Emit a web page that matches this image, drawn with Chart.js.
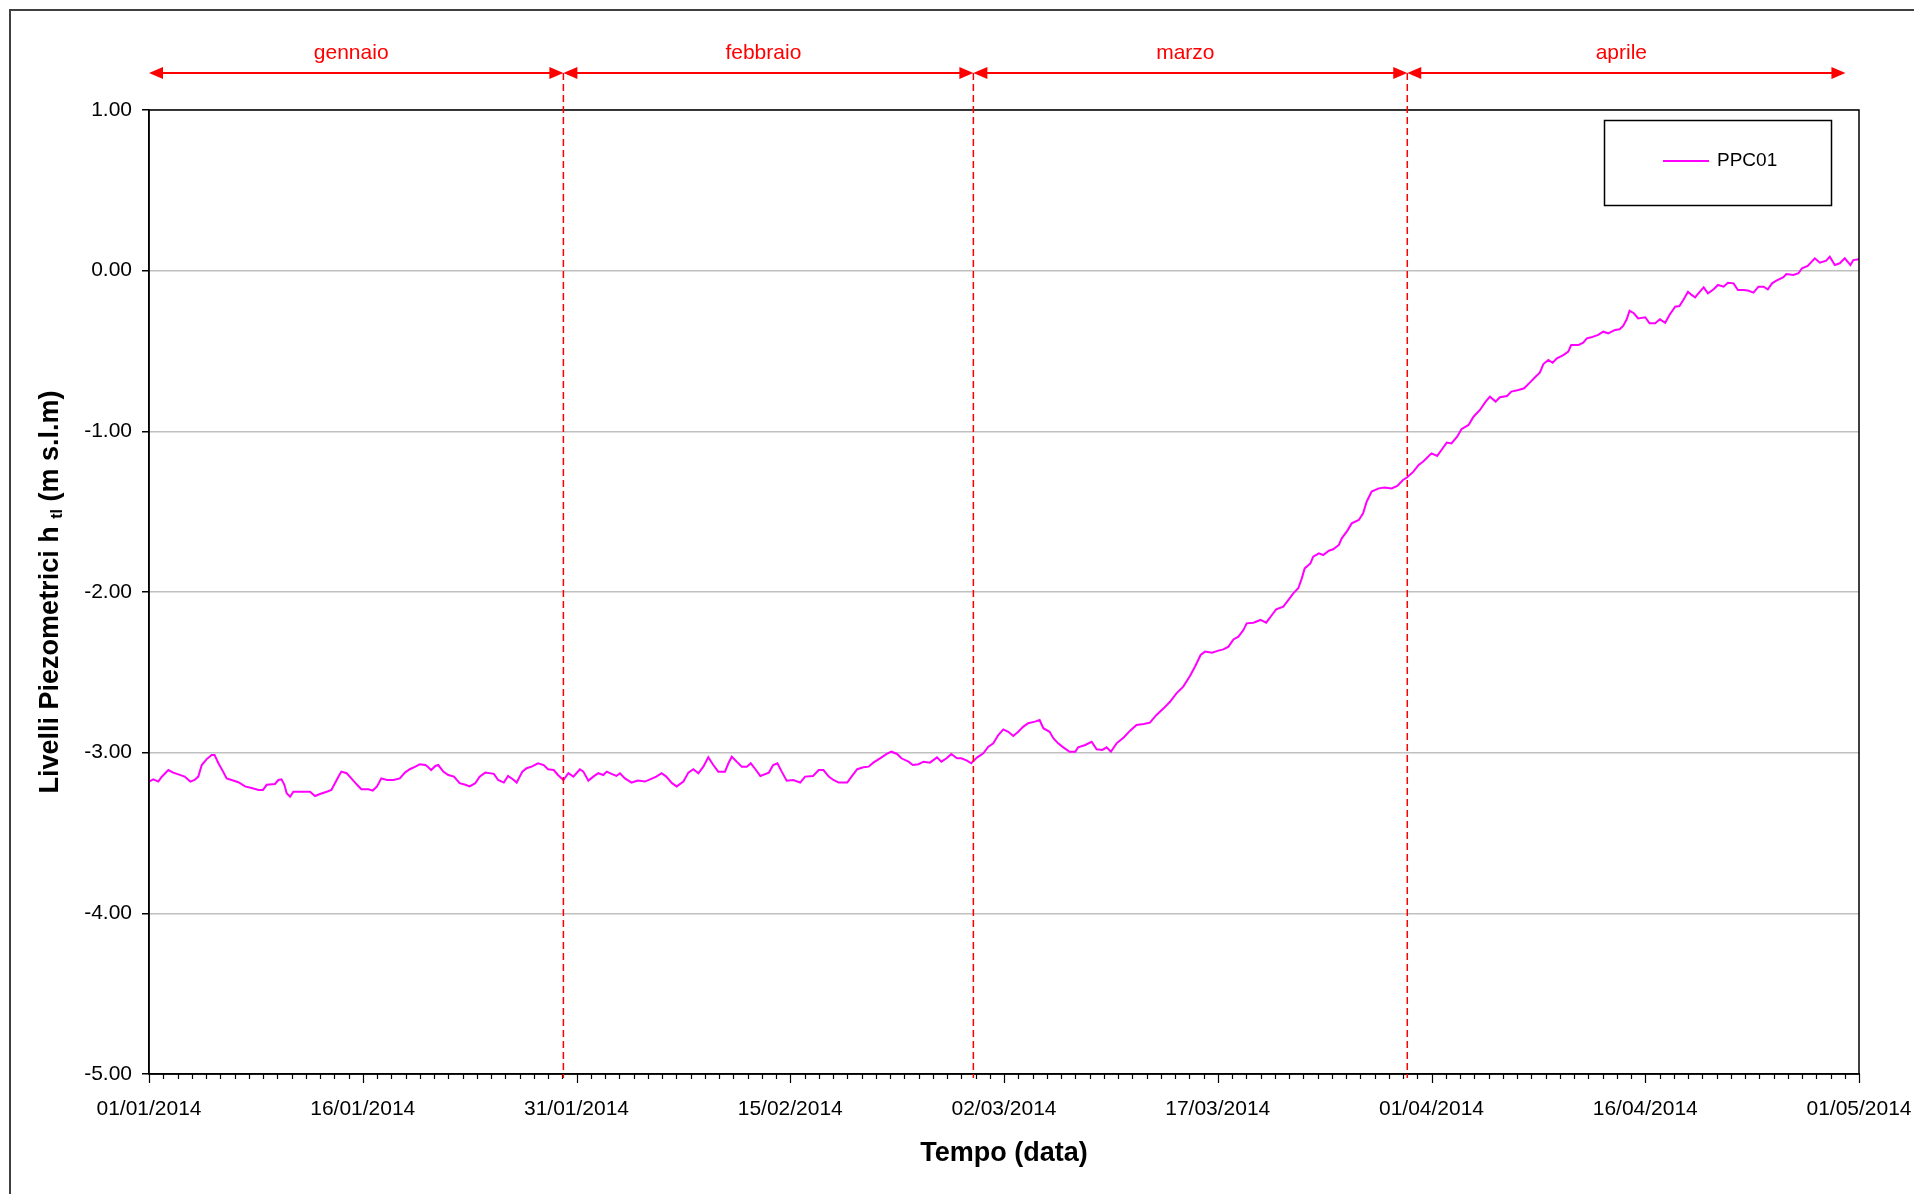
<!DOCTYPE html>
<html lang="it">
<head>
<meta charset="utf-8">
<title>PPC01 - Livelli piezometrici</title>
<script src="https://cdn.jsdelivr.net/npm/chart.js@4.4.1/dist/chart.umd.min.js"></script>
<style>
  html, body { margin: 0; padding: 0; background: #fff; }
  #chart { display: block; }
</style>
</head>
<body>
<canvas id="chart" width="1914" height="1194"></canvas>
<script>
// Giorni dal 01/01/2014 e livelli (m s.l.m), un blocco per mese
const giorniGen = [0, 0.3, 0.65, 0.9, 1.36, 1.7, 2.06, 2.5, 2.9, 3.2, 3.46, 3.7, 4.05, 4.4, 4.6, 4.87, 5.2, 5.45, 5.8, 6.27,
  6.74, 7.2, 7.7, 8.0, 8.26, 8.84, 9.08, 9.3, 9.5, 9.66, 9.9, 10.13, 10.7, 11.3, 11.65, 12.0, 12.47, 12.8, 13.05, 13.3,
  13.5, 13.87, 14.2, 14.6, 14.9, 15.4, 15.7, 16.0, 16.3, 16.7, 17.15, 17.6, 17.96, 18.3, 18.7, 19.0, 19.4, 19.6, 19.8, 20.1,
  20.3, 20.65, 21.0, 21.4, 21.8, 22.2, 22.5, 22.9, 23.2, 23.6, 24.2, 24.5, 24.9, 25.2, 25.6, 25.8, 26.2, 26.5, 26.85, 27.3,
  27.7, 28.0, 28.4, 28.7];
const livelliGen = [-3.18, -3.166, -3.18, -3.15, -3.108, -3.124, -3.135, -3.149, -3.18, -3.17, -3.149, -3.077, -3.04, -3.014, -3.014, -3.066, -3.118, -3.16, -3.17, -3.184,
  -3.21, -3.22, -3.232, -3.232, -3.2, -3.195, -3.17, -3.166, -3.2, -3.253, -3.274, -3.243, -3.243, -3.243, -3.27, -3.257, -3.243, -3.232, -3.19, -3.149,
  -3.118, -3.128, -3.16, -3.2, -3.228, -3.228, -3.236, -3.21, -3.16, -3.17, -3.17, -3.16, -3.124, -3.103, -3.087, -3.072, -3.077, -3.091, -3.108, -3.083,
  -3.077, -3.118, -3.139, -3.149, -3.19, -3.2, -3.21, -3.19, -3.149, -3.124, -3.132, -3.17, -3.186, -3.145, -3.17, -3.186, -3.118, -3.097, -3.087, -3.066,
  -3.077, -3.103, -3.108, -3.139];

const giorniFeb = [29.08, 29.43, 29.78, 30.24, 30.48, 30.83, 31.18, 31.53, 31.88, 32.12, 32.46, 32.8, 33.05, 33.4, 33.87, 34.3, 34.8, 35.16, 35.6, 35.97,
  36.3, 36.7, 37.03, 37.5, 37.85, 38.2, 38.55, 38.9, 39.25, 39.6, 39.95, 40.42, 40.66, 40.9, 41.24, 41.6, 41.95, 42.23, 42.5, 42.9,
  43.5, 43.8, 44.1, 44.4, 44.75, 45.2, 45.7, 46.04, 46.6, 47.0, 47.33, 47.7, 48.03, 48.4, 49.0, 49.3, 49.7, 50.13, 50.5, 50.83,
  51.3, 51.77, 52.1, 52.5, 52.8, 53.3, 53.6, 54.0, 54.35, 54.8, 55.3, 55.6, 55.97, 56.3, 56.7, 57.0, 57.4];
const livelliFeb = [-3.17, -3.128, -3.149, -3.103, -3.118, -3.174, -3.149, -3.128, -3.139, -3.118, -3.132, -3.145, -3.128, -3.16, -3.186, -3.174, -3.18, -3.166, -3.149, -3.128,
  -3.149, -3.19, -3.21, -3.18, -3.124, -3.103, -3.128, -3.087, -3.029, -3.077, -3.118, -3.118, -3.066, -3.025, -3.056, -3.087, -3.087, -3.066, -3.097, -3.145,
  -3.124, -3.077, -3.066, -3.118, -3.174, -3.17, -3.186, -3.149, -3.145, -3.108, -3.108, -3.149, -3.17, -3.186, -3.186, -3.149, -3.103, -3.091, -3.087, -3.062,
  -3.035, -3.008, -2.994, -3.008, -3.035, -3.056, -3.077, -3.072, -3.056, -3.062, -3.029, -3.056, -3.035, -3.008, -3.035, -3.035, -3.049];

const giorniMar = [57.7, 58.1, 58.55, 58.9, 59.25, 59.6, 59.95, 60.3, 60.65, 61.0, 61.36, 61.7, 62.17, 62.5, 62.76, 63.2, 63.46, 63.8, 64.16, 64.6,
  65.0, 65.2, 65.7, 66.15, 66.5, 66.9, 67.2, 67.5, 67.9, 68.4, 68.85, 69.3, 69.8, 70.24, 70.7, 71.2, 71.65, 72.1, 72.58, 73.05,
  73.4, 73.8, 74.1, 74.6, 75.04, 75.4, 75.75, 76.1, 76.45, 76.8, 77.03, 77.5, 78.0, 78.4, 78.8, 79.1, 79.6, 79.95, 80.3, 80.65,
  80.9, 81.1, 81.5, 81.7, 82.1, 82.4, 82.8, 83.1, 83.5, 83.7, 84.1, 84.4, 84.9, 85.2, 85.45, 85.8, 86.3, 86.7, 87.2, 87.6, 88.0];
const livelliMar = [-3.066, -3.031, -3.004, -2.963, -2.942, -2.89, -2.855, -2.87, -2.896, -2.87, -2.838, -2.817, -2.807, -2.797, -2.848, -2.87, -2.91, -2.942, -2.967, -2.994,
  -2.994, -2.967, -2.952, -2.932, -2.979, -2.983, -2.967, -2.994, -2.942, -2.905, -2.863, -2.828, -2.822, -2.813, -2.765, -2.724, -2.683, -2.631, -2.589, -2.523,
  -2.465, -2.392, -2.371, -2.378, -2.365, -2.357, -2.34, -2.295, -2.278, -2.237, -2.195, -2.191, -2.174, -2.191, -2.143, -2.108, -2.091, -2.05, -2.008, -1.977,
  -1.915, -1.853, -1.822, -1.78, -1.759, -1.77, -1.743, -1.734, -1.707, -1.666, -1.618, -1.573, -1.552, -1.51, -1.438, -1.375, -1.355, -1.349, -1.355, -1.34, -1.303];

const giorniApr = [88.3, 88.73, 89.1, 89.4, 90.0, 90.4, 90.7, 91.07, 91.4, 91.8, 92.1, 92.6, 92.95, 93.4, 93.8, 94.1, 94.5, 94.8, 95.3, 95.6,
  96.1, 96.5, 96.9, 97.3, 97.6, 97.85, 98.2, 98.5, 98.8, 99.25, 99.6, 99.8, 100.3, 100.65, 100.9, 101.2, 101.7, 102.05, 102.4, 102.88,
  103.2, 103.45, 103.7, 103.9, 104.2, 104.5, 105.0, 105.3, 105.7, 106.03, 106.4, 106.7, 107.1, 107.4, 107.67, 108.0, 108.25, 108.5, 108.7, 109.1,
  109.4, 109.8, 110.1, 110.5, 110.8, 111.2, 111.5, 111.9, 112.2, 112.6, 112.94, 113.3, 113.6, 113.9, 114.2, 114.7, 114.9, 115.4, 115.75, 116.0,
  116.4, 116.9, 117.25, 117.7, 117.95, 118.3, 118.65, 119.0, 119.4, 119.6, 120.0];
const livelliApr = [-1.286, -1.251, -1.209, -1.189, -1.137, -1.153, -1.116, -1.07, -1.075, -1.033, -0.987, -0.96, -0.909, -0.867, -0.815, -0.784, -0.815, -0.788, -0.78, -0.753,
  -0.743, -0.732, -0.697, -0.66, -0.635, -0.581, -0.556, -0.573, -0.546, -0.525, -0.504, -0.463, -0.463, -0.448, -0.421, -0.415, -0.4, -0.38, -0.39, -0.369,
  -0.365, -0.344, -0.303, -0.249, -0.265, -0.297, -0.29, -0.328, -0.328, -0.303, -0.324, -0.276, -0.224, -0.22, -0.183, -0.131, -0.151, -0.166, -0.145, -0.104,
  -0.141, -0.116, -0.089, -0.1, -0.075, -0.079, -0.12, -0.12, -0.124, -0.137, -0.1, -0.1, -0.116, -0.079, -0.062, -0.041, -0.021, -0.027, -0.016, 0.015,
  0.029, 0.077, 0.05, 0.062, 0.087, 0.035, 0.046, 0.077, 0.035, 0.066, 0.071];

// Etichette asse X (ogni 15 giorni) e mesi in testa al grafico
const etichetteDate = ["01/01/2014", "16/01/2014", "31/01/2014", "15/02/2014", "02/03/2014",
  "17/03/2014", "01/04/2014", "16/04/2014", "01/05/2014"];
const mesi = ["gennaio", "febbraio", "marzo", "aprile"];
const limitiMesi = [0, 29.08, 57.85, 88.3, 119.05]; // giorni, linee rosse tratteggiate

const FONT = "'Liberation Sans', Arial, sans-serif";
const ROSSO = "#ff0000";
const MAGENTA = "#ff00ff";

function unisci(giorni, livelli) {
  const out = [];
  for (let i = 0; i < Math.min(giorni.length, livelli.length); i++) {
    out.push({ x: giorni[i], y: livelli[i] });
  }
  return out;
}

const punti = [
  ...unisci(giorniGen, livelliGen),
  ...unisci(giorniFeb, livelliFeb),
  ...unisci(giorniMar, livelliMar),
  ...unisci(giorniApr, livelliApr)
];

// Disegni extra: cornice, tacche giornaliere, mesi, legenda, titoli
const decorazioni = {
  id: "decorazioni",
  beforeDraw(chart) {
    const ctx = chart.ctx;
    ctx.save();
    ctx.fillStyle = "#fff";
    ctx.fillRect(0, 0, chart.width, chart.height);
    ctx.strokeStyle = "#404040";
    ctx.lineWidth = 2;
    ctx.strokeRect(10, 10, chart.width + 20, chart.height + 20);
    ctx.restore();
  },
  afterDatasetsDraw(chart) {
    const ctx = chart.ctx;
    const area = chart.chartArea;
    const xs = chart.scales.x;
    const yArrow = 73;

    ctx.save();

    // cornice dell'area del grafico
    ctx.strokeStyle = "#000";
    ctx.lineWidth = 1.5;
    ctx.strokeRect(area.left, area.top, area.right - area.left, area.bottom - area.top);

    // tacche giornaliere sull'asse X
    ctx.lineWidth = 1.2;
    ctx.beginPath();
    for (let d = 0; d <= 120; d++) {
      const x = Math.round(xs.getPixelForValue(d)) + 0.5;
      const len = d % 15 === 0 ? 9 : 5;
      ctx.moveTo(x, area.bottom);
      ctx.lineTo(x, area.bottom + len);
    }
    ctx.stroke();

    // linee tratteggiate rosse di separazione dei mesi
    ctx.strokeStyle = ROSSO;
    ctx.lineWidth = 1.5;
    ctx.setLineDash([7, 4]);
    for (let i = 1; i < limitiMesi.length - 1; i++) {
      const x = xs.getPixelForValue(limitiMesi[i]);
      ctx.beginPath();
      ctx.moveTo(x, yArrow);
      ctx.lineTo(x, area.bottom + 4);
      ctx.stroke();
    }
    ctx.setLineDash([]);

    // frecce dei mesi
    ctx.fillStyle = ROSSO;
    ctx.lineWidth = 2;
    ctx.font = "21px " + FONT;
    ctx.textAlign = "center";
    ctx.textBaseline = "middle";
    for (let i = 0; i < mesi.length; i++) {
      const x1 = xs.getPixelForValue(limitiMesi[i]);
      const x2 = xs.getPixelForValue(limitiMesi[i + 1]);
      ctx.beginPath();
      ctx.moveTo(x1 + 10, yArrow);
      ctx.lineTo(x2 - 10, yArrow);
      ctx.stroke();
      ctx.beginPath();
      ctx.moveTo(x1, yArrow);
      ctx.lineTo(x1 + 14, yArrow - 6);
      ctx.lineTo(x1 + 14, yArrow + 6);
      ctx.closePath();
      ctx.fill();
      ctx.beginPath();
      ctx.moveTo(x2, yArrow);
      ctx.lineTo(x2 - 14, yArrow - 6);
      ctx.lineTo(x2 - 14, yArrow + 6);
      ctx.closePath();
      ctx.fill();
      ctx.fillText(mesi[i], (x1 + x2) / 2 - 5, 53);
    }

    // legenda con riquadro
    const ds = chart.data.datasets[0];
    ctx.strokeStyle = "#000";
    ctx.lineWidth = 1.5;
    ctx.strokeRect(1604.5, 120.5, 227, 85);
    ctx.strokeStyle = ds.borderColor;
    ctx.lineWidth = 2;
    ctx.beginPath();
    ctx.moveTo(1663, 161);
    ctx.lineTo(1709, 161);
    ctx.stroke();
    ctx.fillStyle = "#000";
    ctx.textAlign = "left";
    ctx.font = "19px " + FONT;
    ctx.fillText(ds.label, 1717, 161);

    // titolo asse X
    ctx.font = "bold 27px " + FONT;
    ctx.textAlign = "center";
    ctx.fillText("Tempo (data)", (area.left + area.right) / 2, 1154);

    // titolo asse Y con pedice
    ctx.translate(51, (area.top + area.bottom) / 2);
    ctx.rotate(-Math.PI / 2);
    const fMain = "bold 27px " + FONT;
    const fSub = "bold 16px " + FONT;
    const p1 = "Livelli Piezometrici h ";
    const p2 = "tl";
    const p3 = " (m s.l.m)";
    ctx.font = fMain;
    const w1 = ctx.measureText(p1).width;
    const w3 = ctx.measureText(p3).width;
    ctx.font = fSub;
    const w2 = ctx.measureText(p2).width;
    let x0 = -(w1 + w2 + w3) / 2;
    ctx.textAlign = "left";
    ctx.font = fMain;
    ctx.fillText(p1, x0, 0);
    ctx.font = fSub;
    ctx.fillText(p2, x0 + w1, 7);
    ctx.font = fMain;
    ctx.fillText(p3, x0 + w1 + w2, 0);

    ctx.restore();
  }
};

Chart.defaults.font.family = FONT;
Chart.defaults.color = "#000";

const ctx = document.getElementById("chart").getContext("2d");
new Chart(ctx, {
  type: "line",
  data: {
    datasets: [{
      label: "PPC01",
      data: punti,
      borderColor: MAGENTA,
      backgroundColor: MAGENTA,
      borderWidth: 2,
      pointRadius: 0,
      tension: 0,
      fill: false
    }]
  },
  options: {
    responsive: false,
    animation: false,
    layout: { padding: { top: 110, right: 55, bottom: 0, left: 0 } },
    plugins: {
      legend: { display: false },
      tooltip: { enabled: false }
    },
    scales: {
      x: {
        type: "linear",
        min: 0,
        max: 120,
        afterBuildTicks: scale => {
          scale.ticks = etichetteDate.map((_, i) => ({ value: i * 15 }));
        },
        afterFit: scale => {
          scale.height = 120;
          scale.paddingLeft = 0;
          scale.paddingRight = 0;
        },
        grid: { display: false, drawTicks: false },
        border: { display: true, color: "#000", width: 1.5 },
        ticks: {
          autoSkip: false,
          maxRotation: 0,
          padding: 23,
          font: { size: 21 },
          callback: (value) => etichetteDate[Math.round(value / 15)] || ""
        }
      },
      y: {
        min: -5,
        max: 1,
        afterFit: scale => {
          scale.width = 149;
          scale.paddingTop = 0;
          scale.paddingBottom = 0;
        },
        grid: {
          color: "#c0c0c0",
          lineWidth: 1.5,
          tickColor: "#000",
          tickLength: 7,
          tickWidth: 1.5
        },
        border: { display: true, color: "#000", width: 1.5 },
        ticks: {
          stepSize: 1,
          padding: 10,
          font: { size: 21 },
          callback: value => value.toFixed(2)
        }
      }
    }
  },
  plugins: [decorazioni]
});
</script>
</body>
</html>
